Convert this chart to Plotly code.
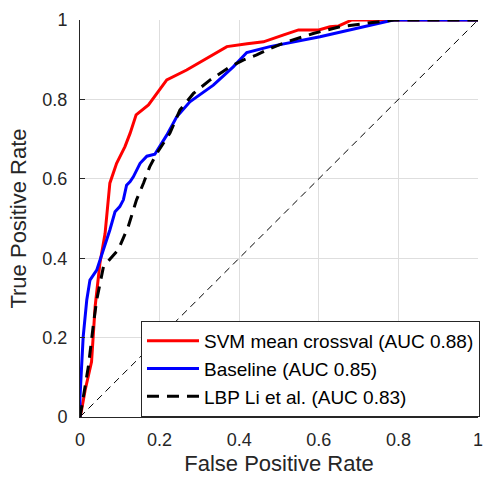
import plotly.graph_objects as go

svm_fpr = [0, 0.004, 0.013, 0.029, 0.038, 0.05, 0.063, 0.071, 0.075, 0.092, 0.113, 0.126, 0.141, 0.172, 0.218, 0.268, 0.318, 0.369, 0.42, 0.461, 0.51, 0.549, 0.6, 0.628, 0.65, 0.683, 1.0]
svm_tpr = [0, 0.018, 0.068, 0.139, 0.278, 0.387, 0.462, 0.547, 0.589, 0.639, 0.681, 0.715, 0.761, 0.786, 0.849, 0.874, 0.903, 0.933, 0.940, 0.945, 0.962, 0.975, 0.975, 0.983, 0.985, 1.0, 1.0]

base_fpr = [0, 0, 0.004, 0.008, 0.017, 0.025, 0.042, 0.059, 0.075, 0.088, 0.1, 0.109, 0.117, 0.126, 0.134, 0.151, 0.168, 0.188, 0.218, 0.243, 0.276, 0.335, 0.385, 0.419, 0.477, 0.603, 0.787, 1.0]
base_tpr = [0, 0.051, 0.127, 0.202, 0.295, 0.345, 0.370, 0.421, 0.471, 0.517, 0.530, 0.547, 0.584, 0.593, 0.605, 0.639, 0.657, 0.662, 0.710, 0.756, 0.794, 0.836, 0.882, 0.918, 0.933, 0.958, 1.0, 1.0]

lbp_fpr = [0, 0.008, 0.021, 0.034, 0.042, 0.059, 0.096, 0.121, 0.142, 0.16, 0.175, 0.193, 0.226, 0.251, 0.285, 0.327, 0.377, 0.41, 0.444, 0.477, 0.519, 0.586, 0.653, 0.729, 0.79, 1.0]
lbp_tpr = [0, 0.051, 0.127, 0.236, 0.295, 0.379, 0.421, 0.479, 0.547, 0.59, 0.63, 0.664, 0.715, 0.773, 0.815, 0.849, 0.882, 0.899, 0.912, 0.928, 0.945, 0.966, 0.983, 0.993, 1.0, 1.0]

chance = [0, 1]

names = ["SVM mean crossval (AUC 0.88)", "Baseline (AUC 0.85)", "LBP Li et al. (AUC 0.83)"]
ticks = [0, 0.2, 0.4, 0.6, 0.8, 1]
tick_text = ["0", "0.2", "0.4", "0.6", "0.8", "1"]

fig = go.Figure()
fig.add_trace(go.Scatter(x=chance, y=chance, mode="lines", showlegend=False,
                         line=dict(color="black", width=1, dash="7px,5px")))
fig.add_trace(go.Scatter(x=svm_fpr, y=svm_tpr, mode="lines", name=names[0],
                         line=dict(color="#ff0000", width=3)))
fig.add_trace(go.Scatter(x=base_fpr, y=base_tpr, mode="lines", name=names[1],
                         line=dict(color="#0000ff", width=3)))
fig.add_trace(go.Scatter(x=lbp_fpr, y=lbp_tpr, mode="lines", name=names[2],
                         line=dict(color="black", width=3, dash="12px,8px")))

font = "Liberation Sans, Arial, sans-serif"
axis_common = dict(range=[0, 1], tickvals=ticks, ticktext=tick_text, automargin=False,
                   showgrid=True, gridcolor="#dedede", gridwidth=1,
                   zeroline=False, showline=True, linecolor="#262626", linewidth=1,
                   ticks="inside", ticklen=5, tickcolor="#262626",
                   tickfont=dict(family=font, size=18, color="#262626"))
fig.update_xaxes(**axis_common, ticklabelstandoff=6,
                 title=dict(text="False Positive Rate", font=dict(family=font, size=22, color="#262626"), standoff=7))
fig.update_yaxes(**axis_common, ticklabelstandoff=8,
                 title=dict(text="True Positive Rate", font=dict(family=font, size=22, color="#262626"), standoff=9))

fig.update_layout(
    width=493, height=478,
    margin=dict(l=80, r=15, t=20, b=61),
    plot_bgcolor="white", paper_bgcolor="white",
    legend=dict(x=1.005, y=0, xanchor="right", yanchor="bottom",
                bgcolor="white", bordercolor="#262626", borderwidth=1,
                font=dict(family=font, size=19, color="black"),
                itemwidth=52, tracegroupgap=0),
)

fig.write_html("out.html", config={"displayModeBar": False},
               post_script="document.body.style.margin='0';document.body.style.padding='0';document.body.style.overflow='hidden';")
